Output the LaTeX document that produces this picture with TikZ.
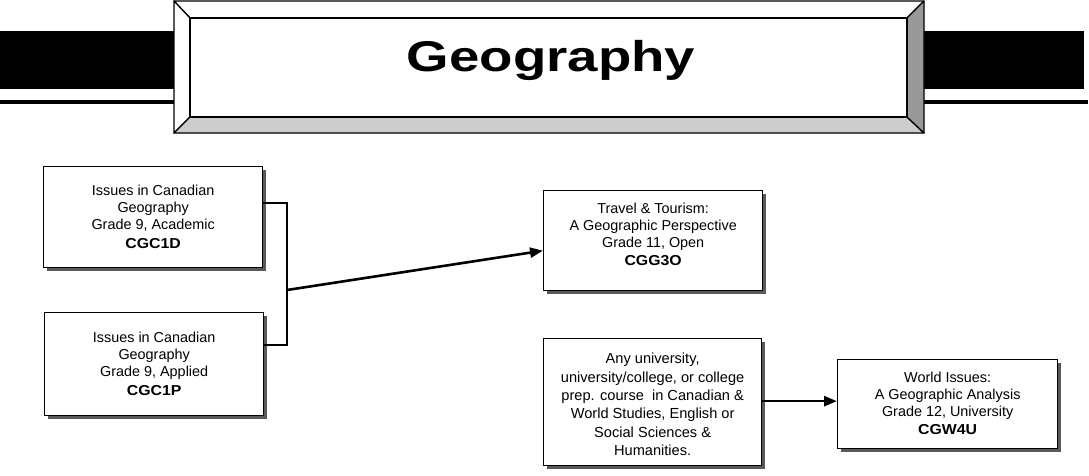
\documentclass[tikz,border=0pt]{standalone}
\usepackage{fontspec}
\usepackage{graphicx}
\setmainfont{Liberation Sans}
\usetikzlibrary{arrows.meta,calc,shadows}
\definecolor{bevlight}{HTML}{CCCCCC}
\definecolor{bevdark}{HTML}{999999}
\tikzset{
  course/.style={draw=black, line width=1.3pt, fill=white, inner sep=0pt, anchor=north west,
    drop shadow={shadow xshift=3pt, shadow yshift=-3pt, fill=black!65, opacity=1}},
  coursetext/.style={anchor=north, align=center, inner sep=0pt, font=\fontsize{14.4}{17}\selectfont},
  link/.style={line width=2.6pt},
  arrowlink/.style={line width=2.6pt, -{Triangle[length=13pt,width=10pt]}},
}
\newcommand{\crscode}[1]{{\bfseries\scalebox{1.1}[1]{#1}}}
\begin{document}
\begin{tikzpicture}[x=1pt,y=-1pt]
\useasboundingbox (0,0) rectangle (1089,475);
% banner bars
\fill[black] (0,31) rectangle (174,89);
\fill[black] (0,100) rectangle (174,104);
\fill[black] (924,31) rectangle (1084,89);
\fill[black] (924,100) rectangle (1088,104);
% bevel frame
\begin{scope}[line width=1.3pt, line join=round]
\filldraw[fill=white] (174,1) -- (924,1) -- (907,18) -- (190,18) -- cycle;
\filldraw[fill=white] (174,1) -- (190,18) -- (190,117) -- (174,133) -- cycle;
\filldraw[fill=bevlight] (174,133) -- (190,117) -- (907,117) -- (924,133) -- cycle;
\filldraw[fill=bevdark] (924,1) -- (924,133) -- (907,117) -- (907,18) -- cycle;
\draw[fill=white] (190,18) rectangle (907,117);
\end{scope}
\node[anchor=base, inner sep=0pt, font=\fontsize{43}{43}\selectfont\bfseries] (title) at (551,71) {\scalebox{1.27}[1]{Geography}};
% course boxes
\node[course, minimum width=219pt, minimum height=101pt] (b1) at (43,166) {};
\node[course, minimum width=219pt, minimum height=103pt] (b2) at (44,312) {};
\node[course, minimum width=219pt, minimum height=100pt] (b3) at (543,190) {};
\node[course, minimum width=218pt, minimum height=127pt] (b4) at (543,338) {};
\node[course, minimum width=220pt, minimum height=89pt] (b5) at (837,359) {};
\node[coursetext] (t1) at ($(b1.north)+(0,19)$) {Issues in Canadian\\Geography\\Grade 9, Academic\\[2pt]\crscode{CGC1D}};
\node[coursetext] (t2) at ($(b2.north)+(0,20)$) {Issues in Canadian\\Geography\\Grade 9, Applied\\[2pt]\crscode{CGC1P}};
\node[coursetext] (t3) at ($(b3.north)+(0,13)$) {Travel \& Tourism:\\A Geographic Perspective\\Grade 11, Open\\[1pt]\crscode{CGG3O}};
\node[coursetext, font=\fontsize{14.6}{18.4}\selectfont] (t4) at ($(b4.north)+(0,15)$) {Any university,\\university/college, or college\\prep. course\ \ in Canadian \&\\World Studies, English or\\Social Sciences \&\\Humanities.};
\node[coursetext] (t5) at ($(b5.north)+(0,13)$) {World Issues:\\A Geographic Analysis\\Grade 12, University\\[1pt]\crscode{CGW4U}};
% connectors
\coordinate (j1) at (287,203);
\coordinate (j2) at (287,345);
\coordinate (j3) at (287,290);
\coordinate (e3) at ($(b3.west)+(0,10)$);
\draw[link, line join=miter] (b1.east |- j1) -- (j1) -- (j2) -- (b2.east |- j2);
\draw[arrowlink] (j3) -- (e3);
\coordinate (s4) at ($(b4.east)+(0,-1)$);
\draw[arrowlink] (s4) -- (b5.west |- s4);
\end{tikzpicture}
\end{document}
